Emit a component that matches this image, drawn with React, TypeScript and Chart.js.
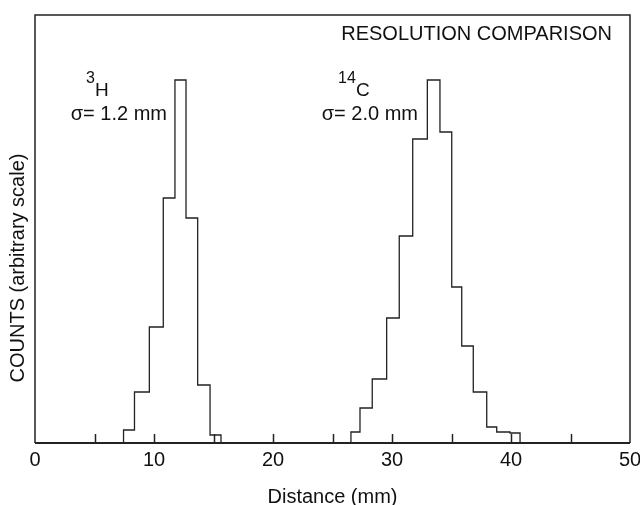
import React, { useEffect, useRef } from "react";
import { Chart, registerables } from "chart.js";

Chart.register(...registerables);

// Bin edges (mm) and counts (arbitrary scale)
const edgesH3 = [7.44, 8.36, 9.61, 10.78, 11.76, 12.69, 13.67, 14.71, 15.63];
const countsH3 = [13, 51, 116, 245, 363, 225, 58, 8];
const edgesC14 = [26.55, 27.31, 28.34, 29.55, 30.61, 31.74, 32.97, 34.03, 35.02, 35.86, 36.83, 37.96, 38.8, 39.92, 40.76];
const countsC14 = [11, 35, 64, 125, 207, 304, 363, 311, 156, 97, 51, 16, 11, 10];

const xMin = 0;
const xMax = 50;
const xMinorStep = 5;
const xLabelStep = 10;
const yMax = 428;

const title = "RESOLUTION COMPARISON";
const yTitle = "COUNTS (arbitrary scale)";
const xTitle = "Distance (mm)";
const labelH3 = { iso: "3", el: "H", sigma: "σ= 1.2 mm" };
const labelC14 = { iso: "14", el: "C", sigma: "σ= 2.0 mm" };

const FONT = "'Liberation Sans', Arial, Helvetica, sans-serif";

function stepPoints(edges: number[], counts: number[]) {
  const pts: { x: number; y: number }[] = [{ x: edges[0], y: 0 }];
  counts.forEach((c, i) => {
    pts.push({ x: edges[i], y: c });
    pts.push({ x: edges[i + 1], y: c });
  });
  pts.push({ x: edges[edges.length - 1], y: 0 });
  return pts;
}

const framePlugin = {
  id: "framePlugin",
  afterDraw(chart: any) {
    const { ctx, chartArea } = chart;
    const { left, right, top, bottom } = chartArea;
    const xs = chart.scales.x;
    ctx.save();
    ctx.strokeStyle = "#222";
    // frame
    ctx.lineWidth = 1.5;
    ctx.beginPath();
    ctx.moveTo(left, bottom);
    ctx.lineTo(left, top);
    ctx.lineTo(right, top);
    ctx.lineTo(right, bottom);
    ctx.stroke();
    ctx.lineWidth = 2;
    ctx.beginPath();
    ctx.moveTo(left, bottom);
    ctx.lineTo(right, bottom);
    ctx.stroke();
    // inward ticks
    ctx.lineWidth = 1.5;
    for (let v = xMin + xMinorStep; v < xMax; v += xMinorStep) {
      const px = Math.round(xs.getPixelForValue(v)) + 0.5;
      ctx.beginPath();
      ctx.moveTo(px, bottom);
      ctx.lineTo(px, bottom - 9);
      ctx.stroke();
    }
    // texts
    ctx.fillStyle = "#111";
    ctx.textBaseline = "alphabetic";
    ctx.textAlign = "right";
    ctx.font = `20px ${FONT}`;
    ctx.fillText(title, 612, 40);
    ctx.fillText(labelH3.sigma, 167, 120);
    ctx.fillText(labelC14.sigma, 418, 120);

    ctx.textAlign = "left";
    ctx.font = `16px ${FONT}`;
    ctx.fillText(labelH3.iso, 86, 83);
    ctx.fillText(labelC14.iso, 338, 83);
    ctx.font = `19px ${FONT}`;
    ctx.fillText(labelH3.el, 95, 96);
    ctx.fillText(labelC14.el, 356, 96);

    // y title
    ctx.save();
    ctx.translate(18, 268);
    ctx.rotate(-Math.PI / 2);
    ctx.textAlign = "center";
    ctx.textBaseline = "middle";
    ctx.font = `20px ${FONT}`;
    ctx.fillText(yTitle, 0, 0);
    ctx.restore();
    ctx.restore();
  },
};

export default function App() {
  const ref = useRef<HTMLCanvasElement | null>(null);
  useEffect(() => {
    if (!ref.current) return;
    const chart = new Chart(ref.current, {
      type: "line",
      data: {
        datasets: [
          {
            label: "3H",
            data: stepPoints(edgesH3, countsH3),
            borderColor: "#222",
            borderWidth: 1.3,
            pointRadius: 0,
            fill: false,
          },
          {
            label: "14C",
            data: stepPoints(edgesC14, countsC14),
            borderColor: "#222",
            borderWidth: 1.3,
            pointRadius: 0,
            fill: false,
          },
        ],
      },
      options: {
        responsive: false,
        animation: false,
        devicePixelRatio: 1,
        layout: { padding: { left: 35, top: 15, right: 10, bottom: 0 } },
        plugins: { legend: { display: false }, tooltip: { enabled: false }, title: { display: false } },
        scales: {
          x: {
            type: "linear",
            min: xMin,
            max: xMax,
            border: { display: false },
            grid: { display: false, drawTicks: false, tickLength: 0 },
            ticks: {
              stepSize: xMinorStep,
              autoSkip: false,
              maxRotation: 0,
              padding: 5,
              color: "#111",
              font: { family: FONT, size: 20 },
              callback: (v: any) => (Number(v) % xLabelStep === 0 ? String(v) : ""),
            },
            title: {
              display: true,
              text: xTitle,
              color: "#111",
              font: { family: FONT, size: 20, lineHeight: 0.8 },
              padding: { top: 0, bottom: 0 },
            },
            afterFit: (s: any) => {
              s.height = 62;
              s.paddingLeft = 0;
              s.paddingRight = 0;
            },
          },
          y: {
            display: false,
            min: 0,
            max: yMax,
          },
        },
      },
      plugins: [framePlugin],
    });
    return () => chart.destroy();
  }, []);
  return (
    <div style={{ position: "fixed", left: 0, top: 0, width: 640, height: 505, background: "#fff" }}>
      <canvas ref={ref} width={640} height={505} />
    </div>
  );
}
